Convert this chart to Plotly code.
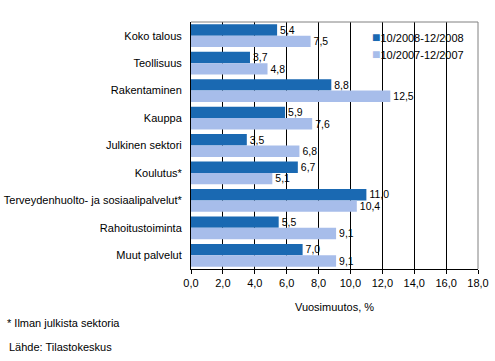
import plotly.graph_objects as go

categories = ["Koko talous", "Teollisuus", "Rakentaminen", "Kauppa", "Julkinen sektori",
              "Koulutus*", "Terveydenhuolto- ja sosiaalipalvelut*", "Rahoitustoiminta", "Muut palvelut"]
s2008 = [5.4, 3.7, 8.8, 5.9, 3.5, 6.7, 11.0, 5.5, 7.0]
s2007 = [7.5, 4.8, 12.5, 7.6, 6.8, 5.1, 10.4, 9.1, 9.1]
names = ["10/2008-12/2008", "10/2007-12/2007"]
colors = ["#1A69B2", "#A7BDEA"]
xticks = [0, 2, 4, 6, 8, 10, 12, 14, 16, 18]

def fmt(v):
    return f"{v:.1f}".replace(".", ",")

fig = go.Figure()
for vals, name, col in zip([s2008, s2007], names, colors):
    fig.add_trace(go.Bar(
        y=categories, x=vals, name=name, orientation="h",
        marker=dict(color=col, line=dict(width=0)),
        text=[fmt(v) for v in vals], textposition="outside",
        textfont=dict(size=11, color="black", family="Liberation Sans, Arial"),
        cliponaxis=False, showlegend=False,
    ))

fig.update_layout(
    width=495, height=361,
    margin=dict(l=191, r=17, t=22, b=92, autoexpand=False),
    plot_bgcolor="white", paper_bgcolor="white",
    barmode="group", bargap=0.17, bargroupgap=0,
    separators=",.",
    font=dict(family="Liberation Sans, Arial", size=11, color="black"),
    showlegend=False,
    xaxis=dict(range=[0, 18], tickvals=xticks, tickformat=".1f",
               showgrid=True, gridcolor="black", gridwidth=1,
               showline=True, linecolor="black", linewidth=1,
               ticks="outside", ticklen=4, tickcolor="black",
               zeroline=False, fixedrange=True, automargin=False,
               title=dict(text="Vuosimuutos, %", font=dict(size=11), standoff=15)),
    yaxis=dict(autorange="reversed", showline=True, linecolor="black", linewidth=1,
               ticks="", showgrid=False, ticklabelstandoff=6, automargin=False,
               tickfont=dict(size=11), fixedrange=True),
)

fig.add_shape(type="line", xref="paper", yref="paper", x0=0, x1=1, y0=1, y1=1,
              line=dict(color="#808080", width=1))
fig.add_shape(type="line", xref="paper", yref="paper", x0=1, x1=1, y0=0, y1=1,
              line=dict(color="#808080", width=1))

# legend drawn as text with coloured squares
for i, (name, col) in enumerate(zip(names, colors)):
    fig.add_annotation(
        text=f"<span style='color:{col};font-size:14px'>■</span>{name}",
        xref="paper", yref="paper",
        x=(371 - 191) / 287, y=1 - (37 + 17 * i - 22) / 247,
        xanchor="left", yanchor="middle", showarrow=False,
        font=dict(size=11), borderpad=0)

fig.add_annotation(text="* Ilman julkista sektoria", xref="paper", yref="paper",
                   x=-186/287, y=-(323-269)/247, xanchor="left", yanchor="middle",
                   showarrow=False, font=dict(size=11))
fig.add_annotation(text="Lähde: Tilastokeskus", xref="paper", yref="paper",
                   x=-184/287, y=-(347-269)/247, xanchor="left", yanchor="middle",
                   showarrow=False, font=dict(size=11))

fig.write_html("out.html", config={"displayModeBar": False},
               post_script="document.body.style.margin='0';")
